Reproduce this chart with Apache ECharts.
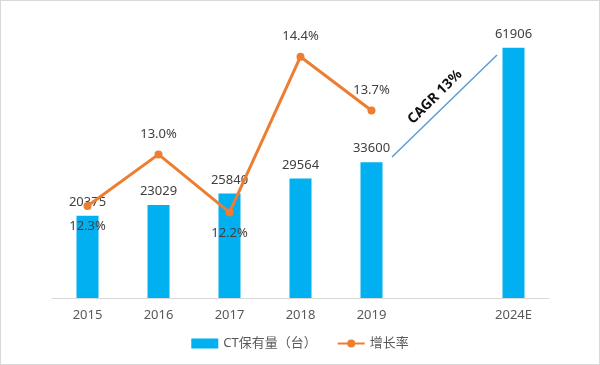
<!DOCTYPE html>
<html><head><meta charset="utf-8">
<script src="https://cdn.jsdelivr.net/npm/echarts@6/dist/echarts.min.js"></script>
<style>
html,body{margin:0;padding:0;background:#fff;}
#wrap{position:absolute;left:0;top:0;width:598px;height:363px;border:1px solid #d9d9d9;}
#c{position:absolute;left:-1px;top:-1px;width:600px;height:365px;}
</style></head>
<body><div id="wrap"><div id="c"></div></div>
<script>
const categories = ['2015','2016','2017','2018','2019','','2024E'];
const ctUnits = [20375, 23029, 25840, 29564, 33600, null, 61906];
const growthRate = [12.3, 13.03, 12.21, 14.41, 13.65, null, null];
const growthLabelPos = ['bottom','top','bottom','top','top'];
const cagrText = 'CAGR 13%';

const chart = echarts.init(document.getElementById('c'));
const font = "'Noto Sans','Noto Sans CJK SC',sans-serif";
chart.setOption({
  animation:false,
  textStyle:{fontFamily:font},
  grid:{left:52,right:51,top:15,bottom:67},
  xAxis:{type:'category',data:categories,
    axisLine:{lineStyle:{color:'#d9d9d9',width:1}},axisTick:{show:false},
    axisLabel:{color:'#595959',fontSize:13,margin:11,fontFamily:font}},
  yAxis:[{type:'value',min:0,max:70000,show:false,splitLine:{show:false}},
         {type:'value',min:11,max:15,show:false,splitLine:{show:false}}],
  legend:{bottom:10,left:'center',itemGap:20,
    textStyle:{color:'#595959',fontSize:13,fontFamily:font},
    data:[{name:'CT保有量（台）',icon:'rect',itemStyle:{color:'#00B0F0'}},{name:'增长率'}],
    itemWidth:27,itemHeight:10},
  series:[
    {name:'CT保有量（台）',type:'bar',data:ctUnits,barWidth:22,
     itemStyle:{color:'#00B0F0'},
     label:{show:true,position:'top',distance:7,color:'#404040',fontSize:13,fontFamily:font}},
    {name:'增长率',type:'line',yAxisIndex:1,
     data:growthRate.map((v,i)=>v==null?null:{value:v,label:{position:growthLabelPos[i]}}),
     connectNulls:false,
     lineStyle:{color:'#ED7D31',width:3},itemStyle:{color:'#ED7D31'},
     symbol:'circle',symbolSize:8,
     label:{show:true,distance:10,color:'#404040',fontSize:13,fontFamily:font,
       formatter:p=>p.value.toFixed(1)+'%'}}
  ],
  graphic:[
    {type:'line',shape:{x1:392,y1:157,x2:497,y2:55},style:{stroke:'#5B9BD5',lineWidth:1.5}},
    {type:'text',x:435,y:97,rotation:Math.PI/4,
     style:{text:cagrText,font:"bold 14px 'Noto Sans',sans-serif",fill:'#111',align:'center',verticalAlign:'middle'}}
  ]
});
</script></body></html>
